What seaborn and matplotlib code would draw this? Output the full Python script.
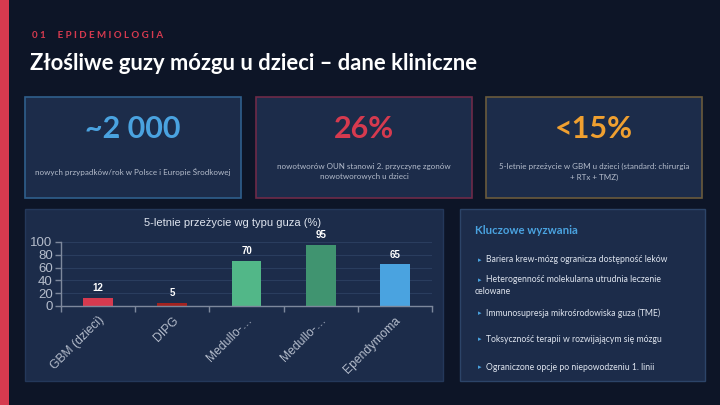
import matplotlib
matplotlib.use("Agg")
import matplotlib.pyplot as plt
from matplotlib.patches import Rectangle
import pandas as pd
import seaborn as sns

# Data
tumour_types = ["GBM (dzieci)", "DIPG", "Medullo-…", "Medullo-… ", "Ependymoma"]
survival_5y = [12, 5, 70, 95, 65]
bar_colors = ["#d63a4f", "#a3221f", "#52b788", "#409470", "#4aa3e0"]

kpi_values = ["~2 000", "26%", "<15%"]
kpi_colors = ["#4aa3e0", "#d63a4f", "#f0a030"]
kpi_borders = ["#2f5f8c", "#6e2a48", "#6a5a3c"]
kpi_captions = [
    ["nowych przypadków/rok w Polsce i Europie Środkowej"],
    ["nowotworów OUN stanowi 2. przyczynę zgonów", "nowotworowych u dzieci"],
    ["5-letnie przeżycie w GBM u dzieci (standard: chirurgia", "+ RTx + TMZ)"],
]

challenges = [
    ["Bariera krew-mózg ogranicza dostępność leków"],
    ["Heterogenność molekularna utrudnia leczenie", "celowane"],
    ["Immunosupresja mikrośrodowiska guza (TME)"],
    ["Toksyczność terapii w rozwijającym się mózgu"],
    ["Ograniczone opcje po niepowodzeniu 1. linii"],
]

BG = "#0d1527"
CARD = "#1c2c4a"
TEXT_LIGHT = "#dfe5ef"
TEXT_GREY = "#b4bccb"

sns.set_theme(style="dark")
plt.rcParams["font.family"] = ["Lato", "DejaVu Sans"]

fig = plt.figure(figsize=(7.2, 4.05), dpi=100, facecolor=BG)

# background layer in pixel coordinates
bg = fig.add_axes([0, 0, 1, 1])
bg.set_xlim(0, 720)
bg.set_ylim(405, 0)
bg.axis("off")
bg.set_facecolor(BG)

bg.add_patch(Rectangle((0, 0), 9, 405, color="#d63a4f", lw=0))

bg.text(32, 35, "0 1     E P I D E M I O L O G I A", color="#d63a4f",
        fontsize=7, fontweight="bold", va="center", ha="left")
bg.text(30, 63, "Złośliwe guzy mózgu u dzieci – dane kliniczne", color="white",
        fontsize=15.8, fontweight="bold", va="center", ha="left")

# KPI cards
card_x = [25, 256, 486]
card_w = 216
for x0, val, col, bcol, cap in zip(card_x, kpi_values, kpi_colors, kpi_borders, kpi_captions):
    bg.add_patch(Rectangle((x0, 97), card_w, 101, facecolor=CARD, edgecolor=bcol, lw=1.2))
    cx = x0 + card_w / 2
    bg.text(cx, 129, val, color=col, fontsize=22, fontweight="bold", ha="center", va="center")
    if len(cap) == 1:
        ys = [172]
    else:
        ys = [166, 177]
    for y, line in zip(ys, cap):
        bg.text(cx, y, line, color=TEXT_GREY, fontsize=5.8, ha="center", va="center")

# lower cards
bg.add_patch(Rectangle((25, 209), 418, 172, facecolor=CARD, edgecolor="#24385a", lw=1))
bg.add_patch(Rectangle((460, 209), 245, 172, facecolor=CARD, edgecolor="#2c4468", lw=1))

bg.text(233, 223, "5-letnie przeżycie wg typu guza (%)", color=TEXT_LIGHT, fontsize=8,
        ha="center", va="center", family=["Liberation Sans", "DejaVu Sans"])

bg.text(475, 230, "Kluczowe wyzwania", color="#4aa3e0", fontsize=8.2,
        fontweight="bold", ha="left", va="center")
bullet_y = [260, 280, 313, 339, 367]
for y, lines in zip(bullet_y, challenges):
    bg.text(478, y, "▸", color="#4aa3e0", fontsize=5, ha="left", va="center",
            family=["DejaVu Sans"])
    bg.text(486, y, lines[0], color=TEXT_LIGHT, fontsize=6.2, ha="left", va="center")
    if len(lines) > 1:
        bg.text(475, y + 11, lines[1], color=TEXT_LIGHT, fontsize=6.2, ha="left", va="center")

# bar chart
ax = fig.add_axes([61 / 720, 1 - 306 / 405, (432 - 61) / 720, 64 / 405])
ax.set_facecolor(CARD)
df = pd.DataFrame({"typ": tumour_types, "przezycie": survival_5y})
sns.barplot(data=df, x="typ", y="przezycie", hue="typ", palette=bar_colors,
            legend=False, width=0.4, saturation=1, linewidth=0, edgecolor="none", ax=ax)
ax.set_xlim(-0.5, len(tumour_types) - 0.5)
ax.set_ylim(0, 100)
ax.set_yticks([0, 20, 40, 60, 80, 100])
ax.set_xlabel("")
ax.set_ylabel("")
ax.grid(axis="y", color="#2a3d5e", lw=0.8)
ax.grid(axis="x", visible=False)
ax.set_axisbelow(True)

for s in ["top", "right"]:
    ax.spines[s].set_visible(False)
for s in ["left", "bottom"]:
    ax.spines[s].set_visible(True)
    ax.spines[s].set_color("#7d889c")
    ax.spines[s].set_linewidth(1)

ax.tick_params(axis="y", colors=TEXT_GREY, labelsize=9.5, length=4, width=1, pad=2,
               color="#7d889c", left=True)
ax.set_yticklabels([str(v) for v in [0, 20, 40, 60, 80, 100]],
                   family=["Liberation Sans", "DejaVu Sans"])
ax.set_xticks(range(len(tumour_types)))
ax.set_xticklabels([t.strip() for t in tumour_types], rotation=45, ha="right",
                   rotation_mode="anchor", color=TEXT_GREY, fontsize=8.7,
                   family=["Liberation Sans", "DejaVu Sans"])
ax.tick_params(axis="x", which="major", length=0, pad=6)
ax.set_xticks([i - 0.5 for i in range(len(tumour_types) + 1)], minor=True)
ax.tick_params(axis="x", which="minor", length=4, width=1, color="#7d889c", bottom=True)

for i, v in enumerate(survival_5y):
    ax.annotate(str(v), (i, v), xytext=(0, 3.5), textcoords="offset points",
                ha="center", va="bottom", color="white", fontsize=7, fontweight="bold",
                family=["Liberation Sans", "DejaVu Sans"], annotation_clip=False)

fig.savefig("out.png", dpi=100, facecolor=BG)
